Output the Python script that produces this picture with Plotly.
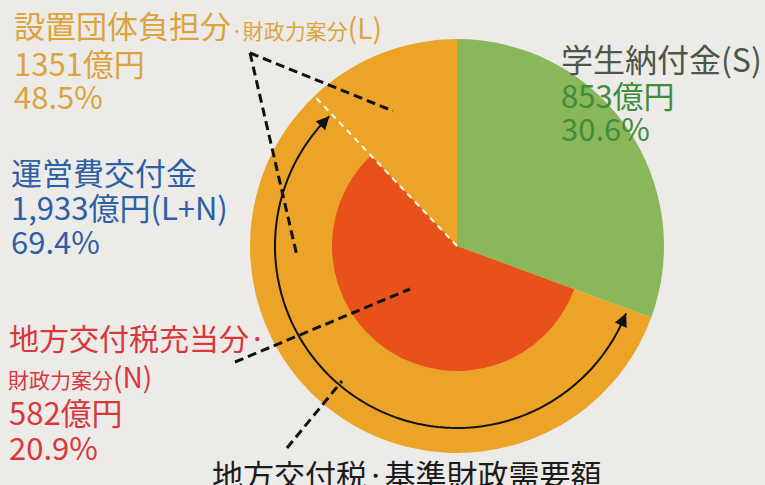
import numpy as np
import plotly.graph_objects as go

# ---------------- data ----------------
segment_keys = ["S", "L", "N"]
segment_names = ["学生納付金", "設置団体負担分", "地方交付税充当分"]
amounts = [853, 1351, 582]          # 億円
shares = [30.6, 48.5, 20.9]         # %
subsidy_amount = 1933               # 運営費交付金 (L+N)
subsidy_share = 69.4

S, L, N = amounts
TOTAL = sum(amounts)

# ---------------- layout constants ----------------
W, H = 765, 485
CX, CY, R = 457, 246, 207          # pie centre / radius in px
R_IN = 125                          # inner (N) disc radius in px
FONT = "Noto Sans CJK JP"

BG = "#ecebe8"
ORANGE = "#eca428"
GREEN = "#8ab75a"
RED = "#e8511a"
T_ORANGE = "#dba43e"
T_BLUE = "#2d5fa6"
T_RED = "#d9373c"
T_GREEN = "#3f8c3e"
T_GREEN_HEAD = "#4c5649"
T_BLACK = "#1c1c1c"


def dom(cx, cy, r):
    return dict(x=[(cx - r) / W, (cx + r) / W],
                y=[(H - cy - r) / H, (H - cy + r) / H])


def pt(theta_deg, r):
    t = np.radians(theta_deg)
    return CX + r * np.sin(t), CY - r * np.cos(t)


fig = go.Figure()

# outer pie : S vs L+N
fig.add_trace(go.Pie(
    values=[S, L + N], labels=["S", "L+N"],
    marker=dict(colors=[GREEN, ORANGE], line=dict(width=0)),
    sort=False, direction="clockwise", rotation=0,
    textinfo="none", hoverinfo="skip", showlegend=False,
    domain=dom(CX, CY, R),
))

# inner disc : N drawn area-equivalent inside the orange part
ratio2 = (R_IN / R) ** 2
red_val = N / ratio2
rest_val = TOTAL - S - red_val
fig.add_trace(go.Pie(
    values=[S, red_val, rest_val], labels=["a", "N", "b"],
    marker=dict(colors=["rgba(0,0,0,0)", RED, "rgba(0,0,0,0)"], line=dict(width=0)),
    sort=False, direction="clockwise", rotation=0,
    textinfo="none", hoverinfo="skip", showlegend=False,
    domain=dom(CX, CY, R_IN),
))

# invisible helper so the cartesian axes exist
fig.add_trace(go.Scatter(x=[0, W], y=[0, H], mode="markers",
                         marker=dict(opacity=0), hoverinfo="skip", showlegend=False))

ang_S = 360 * S / TOTAL
ang_red_end = ang_S + 360 * red_val / TOTAL

shapes = []
# curved double arrow along the "基準財政需要額" span
R_ARC = 182
th = np.linspace(ang_S + 1.5, ang_red_end - 1.0, 160)
ax_, ay_ = pt(th, R_ARC)
path = "M " + " L ".join(f"{x:.2f},{y:.2f}" for x, y in zip(ax_, ay_))
shapes.append(dict(type="path", xref="x", yref="y", path=path,
                   line=dict(color="#111111", width=2), layer="above"))

# white dashed boundary
x1, y1 = pt(ang_red_end, R)
shapes.append(dict(type="line", xref="x", yref="y", x0=CX, y0=CY, x1=x1, y1=y1,
                   line=dict(color="white", width=2, dash="6px,5px")))
# black dashed leader lines
DASH = dict(color="#111111", width=3, dash="9px,5px")
for (a, b, c, d) in [(250, 53, 393, 111), (250, 53, 297, 256),
                     (235, 362, 410, 289), (287, 448, 342, 381)]:
    shapes.append(dict(type="line", xref="x", yref="y", x0=a, y0=b, x1=c, y1=d,
                       line=DASH))

annotations = []
# arrow heads
for tip, back in [(ang_S + 1.5, ang_S + 6), (ang_red_end - 1.0, ang_red_end - 5.5)]:
    tx, ty = pt(tip, R_ARC)
    bx, by = pt(back, R_ARC)
    annotations.append(dict(x=tx, y=ty, ax=bx, ay=by, xref="x", yref="y",
                            axref="x", ayref="y", text="", showarrow=True,
                            arrowhead=2, arrowsize=1.3, arrowwidth=2,
                            arrowcolor="#111111"))


def txt(x, y, s, color, size=31):
    annotations.append(dict(x=x, y=y, xref="x", yref="y", text=s, showarrow=False,
                            xanchor="left", yanchor="middle",
                            font=dict(family=FONT, size=size, color=color)))


# 設置団体負担分 (L)
txt(12, 24, segment_names[1], T_ORANGE)
txt(229, 27, "·財政力案分<span style='font-size:28px'>(L)</span>", T_ORANGE, 21)
txt(12, 62, f"{L}億円", T_ORANGE)
txt(12, 95, f"{shares[1]}%", T_ORANGE)

# 運営費交付金 (L+N)
txt(9, 171, "運営費交付金", T_BLUE)
txt(9, 206, f"{subsidy_amount:,}億円(L+N)", T_BLUE)
txt(9, 240, f"{subsidy_share}%", T_BLUE)

# 地方交付税充当分 (N)
txt(7, 337, segment_names[2] + "·", T_RED, 30)
txt(6, 376, "財政力案分<span style='font-size:28px'>(N)</span>", T_RED, 21)
txt(7, 411, f"{N}億円", T_RED)
txt(7, 446, f"{shares[2]}%", T_RED)

# 学生納付金 (S)
txt(559, 58, segment_names[0] + "(S)", T_GREEN_HEAD, 32)
txt(559, 94, f"{S}億円", T_GREEN)
txt(559, 127, f"{shares[0]}%", T_GREEN)

# bottom caption
txt(210, 473, "地方交付税·基準財政需要額", T_BLACK, 31)

fig.update_layout(
    width=W, height=H,
    margin=dict(l=0, r=0, t=0, b=0),
    paper_bgcolor=BG, plot_bgcolor="rgba(0,0,0,0)",
    xaxis=dict(range=[0, W], visible=False, fixedrange=True),
    yaxis=dict(range=[H, 0], visible=False, fixedrange=True),
    shapes=shapes, annotations=annotations,
    showlegend=False,
)

fig.write_html("out.html",
               config={"displayModeBar": False},
               post_script="document.body.style.margin='0';document.body.style.padding='0';"
                           "document.body.style.background='" + BG + "';")
